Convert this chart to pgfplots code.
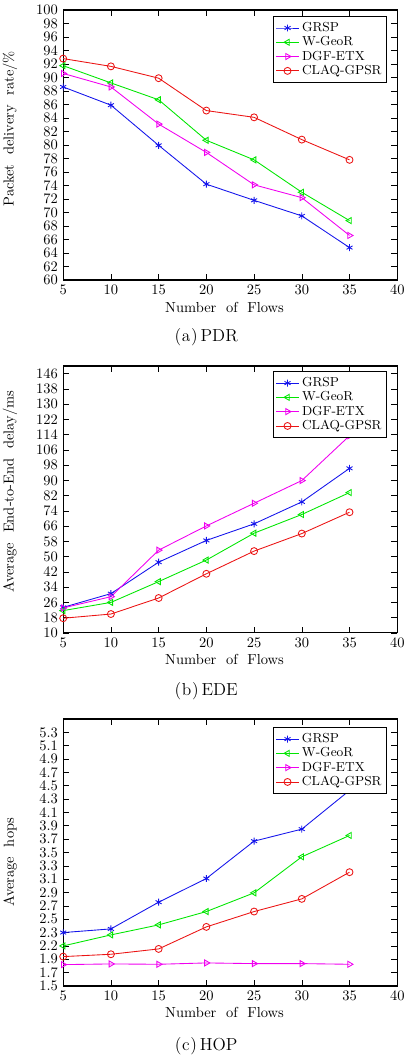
\documentclass[border=0pt]{standalone}
\usepackage{pgfplots}
\pgfplotsset{compat=1.18}

\definecolor{cblue}{RGB}{20,20,235}
\definecolor{cgreen}{RGB}{0,230,0}
\definecolor{cmag}{RGB}{240,0,240}
\definecolor{cred}{RGB}{235,20,20}

\pgfplotsset{
  flows/.style={
    scale only axis,
    width=230.5pt,
    xmin=5, xmax=40,
    xtick={5,10,...,40},
    line width=0.8pt,
    tick style={black, line width=0.4pt},
    every axis plot/.append style={semithick, mark size=2.4pt},
    xlabel={Number\ \ of\ \ Flows},
    xlabel style={at={(axis description cs:0.483,-0.1)}, anchor=center},
    legend style={at={(rel axis cs:0.97,0.978)}, anchor=north east,
      font=\small, draw=black, line width=0.8pt, legend cell align=left,
      row sep=-2pt, inner xsep=1.5pt, inner ysep=2pt},
    legend image code/.code={
      \draw[mark repeat=2, mark phase=2] plot coordinates {(0cm,0cm) (0.27cm,0cm) (0.54cm,0cm)};},
  },
  grsp/.style={cblue, mark=asterisk},
  wgeo/.style={cgreen, mark=triangle, mark options={rotate=90}},
  dgf/.style={cmag, mark=triangle, mark options={rotate=-90}},
  claq/.style={cred, mark=o},
}

\begin{document}
\begin{tikzpicture}

% (a) PDR
\begin{axis}[flows, name=a1, at={(0,0)}, anchor=north west,
  height=186.3pt,
  ymin=60, ymax=100, ytick={60,62,...,100},
  ylabel={Packet\ \ delivery\ \ rate/\%},
  ylabel style={at={(axis description cs:-0.159,0.56)}, anchor=center},
]
\addplot[grsp] coordinates {(5,88.6) (10,85.9) (15,79.95) (20,74.2) (25,71.8) (30,69.5) (35,64.8)};
\addlegendentry{GRSP}
\addplot[wgeo] coordinates {(5,91.75) (10,89.2) (15,86.7) (20,80.7) (25,77.8) (30,73.0) (35,68.8)};
\addlegendentry{W-GeoR}
\addplot[dgf] coordinates {(5,90.6) (10,88.6) (15,83.1) (20,78.9) (25,74.1) (30,72.2) (35,66.6)};
\addlegendentry{DGF-ETX}
\addplot[claq] coordinates {(5,92.8) (10,91.65) (15,89.9) (20,85.1) (25,84.1) (30,80.8) (35,77.8)};
\addlegendentry{CLAQ-GPSR}
\end{axis}
\node[font=\large] at ([xshift=-16.6pt, yshift=-39.3pt]a1.south) {(\kern0.5pt a\kern0.5pt)\,PDR};

% (b) EDE
\begin{axis}[flows, name=a2, at={(0,-245.6pt)}, anchor=north west,
  height=184.2pt,
  ymin=10, ymax=150, ytick={10,18,...,146},
  ylabel={Average\ \ End-to-End\ \ delay/ms},
  ylabel style={at={(axis description cs:-0.159,0.53)}, anchor=center},
  legend style={at={(rel axis cs:0.97,0.981)}},
]
\addplot[grsp] coordinates {(5,23.4) (10,30.6) (15,47.1) (20,58.5) (25,67.2) (30,78.7) (35,96.3)};
\addlegendentry{GRSP}
\addplot[wgeo] coordinates {(5,21.7) (10,26.0) (15,36.9) (20,48.2) (25,62.3) (30,72.1) (35,83.6)};
\addlegendentry{W-GeoR}
\addplot[dgf] coordinates {(5,23.1) (10,29.0) (15,53.4) (20,66.1) (25,78.0) (30,89.9) (35,113.4)};
\addlegendentry{DGF-ETX}
\addplot[claq] coordinates {(5,17.7) (10,19.9) (15,28.3) (20,41.0) (25,52.9) (30,62.1) (35,73.3)};
\addlegendentry{CLAQ-GPSR}
\end{axis}
\node[font=\large] at ([xshift=-16.6pt, yshift=-40pt]a2.south) {(\kern0.5pt b\kern0.5pt)\,EDE};

% (c) HOP
\begin{axis}[flows, name=a3, at={(0,-489.2pt)}, anchor=north west,
  height=184.2pt,
  ymin=1.5, ymax=5.5,
  ytick={1.5,1.7,1.9,2.1,2.3,2.5,2.7,2.9,3.1,3.3,3.5,3.7,3.9,4.1,4.3,4.5,4.7,4.9,5.1,5.3},
  yticklabels={1.5,1.7,1.9,2.2,2.3,2.5,2.7,2.9,3.1,3.3,3.5,3.7,3.9,4.1,4.3,4.5,4.7,4.9,5.1,5.3},
  ylabel={Average\ \ hops},
  ylabel style={at={(axis description cs:-0.159,0.464)}, anchor=center},
  legend style={at={(rel axis cs:0.97,0.97)}},
]
\addplot[grsp] coordinates {(5,2.30) (10,2.355) (15,2.755) (20,3.11) (25,3.67) (30,3.85) (35,4.43)};
\addlegendentry{GRSP}
\addplot[wgeo] coordinates {(5,2.10) (10,2.265) (15,2.415) (20,2.615) (25,2.895) (30,3.435) (35,3.755)};
\addlegendentry{W-GeoR}
\addplot[dgf] coordinates {(5,1.82) (10,1.83) (15,1.825) (20,1.845) (25,1.835) (30,1.835) (35,1.825)};
\addlegendentry{DGF-ETX}
\addplot[claq] coordinates {(5,1.94) (10,1.975) (15,2.055) (20,2.385) (25,2.615) (30,2.805) (35,3.205)};
\addlegendentry{CLAQ-GPSR}
\end{axis}
\node[font=\large] at ([xshift=-16.6pt, yshift=-41.4pt]a3.south) {(\kern0.5pt c\kern0.5pt)\,HOP};

% page frame with the reference's margins
\pgfresetboundingbox
\useasboundingbox (-43.6pt,6.9pt) rectangle (236.5pt,-723.8pt);

\end{tikzpicture}
\end{document}
